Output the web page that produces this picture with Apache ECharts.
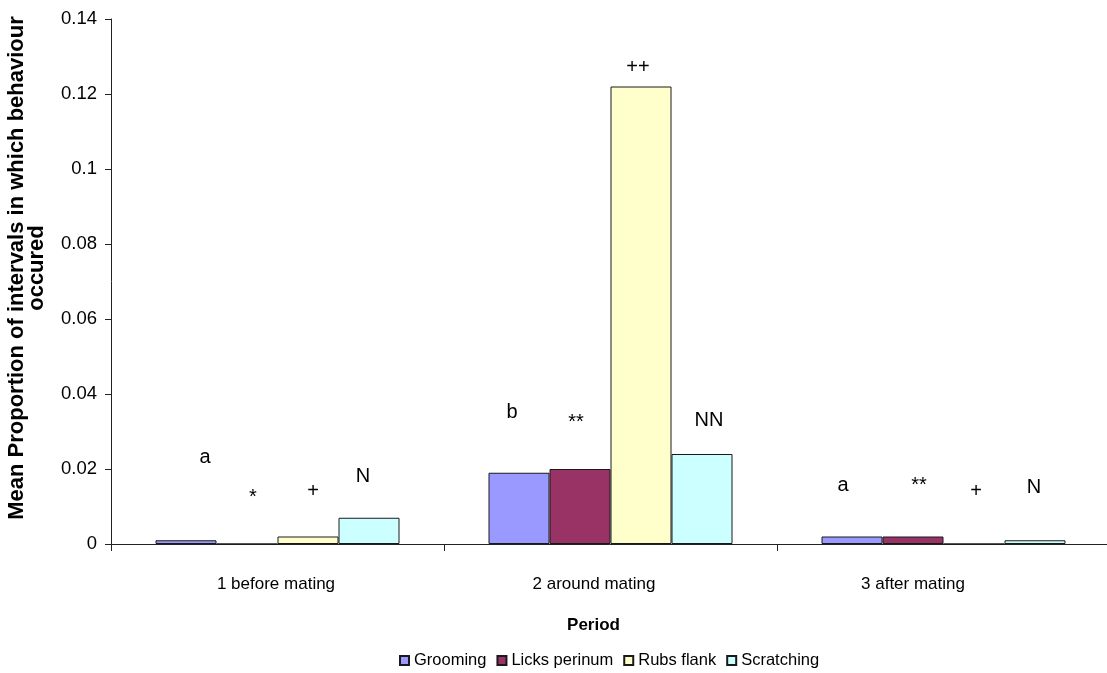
<!DOCTYPE html>
<html>
<head>
<meta charset="utf-8">
<title>Mean proportion of intervals by period</title>
<script src="https://cdn.jsdelivr.net/npm/echarts@6/dist/echarts.min.js"></script>
<style>
  html, body { margin: 0; padding: 0; background: #ffffff; overflow: hidden; }
  #chart { width: 1107px; height: 673px; }
</style>
</head>
<body>
<div id="chart"></div>
<script>
// Periods on the x axis
const periods = ['1 before mating', '2 around mating', '3 after mating'];

// Mean proportion of intervals in which each behaviour occurred, per period
const grooming     = [0.001, 0.019, 0.002];
const licksPerinum = [0.000, 0.020, 0.002];
const rubsFlank    = [0.002, 0.122, 0.000];
const scratching   = [0.007, 0.024, 0.001];

// Significance markers written above each bar, and the height they sit at
const groomingMarks = ['a', 'b', 'a'];
const groomingMarkAt = [0.023, 0.035, 0.0155];
const licksMarks = ['*', '**', '**'];
const licksMarkAt = [0.0125, 0.0325, 0.0155];
const rubsMarks = ['+', '++', '+'];
const rubsMarkAt = [0.014, 0.127, 0.014];
const scratchMarks = ['N', 'NN', 'N'];
const scratchMarkAt = [0.018, 0.033, 0.015];

// Y axis ticks
const yMin = 0, yMax = 0.14, yStep = 0.02;

const FONT = "'Liberation Sans', Arial, Helvetica, sans-serif";

// small horizontal nudges (px) for the marker text, per series and period
const markNudge = [
  [19, -7, -9],
  [6, -4, 6],
  [5, -3, 2],
  [-6, 7, -1]
];

const seriesDefs = [
  { name: 'Grooming',      values: grooming,     color: '#9999FF', marks: groomingMarks, at: groomingMarkAt },
  { name: 'Licks perinum', values: licksPerinum, color: '#993366', marks: licksMarks,    at: licksMarkAt },
  { name: 'Rubs flank',    values: rubsFlank,    color: '#FFFFCC', marks: rubsMarks,     at: rubsMarkAt },
  { name: 'Scratching',    values: scratching,   color: '#CCFFFF', marks: scratchMarks,  at: scratchMarkAt }
];

const series = seriesDefs.map(function (s, si) {
  return {
    name: s.name,
    type: 'bar',
    data: s.values,
    barWidth: 61,
    barGap: '0%',
    itemStyle: { color: s.color, borderColor: '#1a1a1a', borderWidth: 1 },
    emphasis: { disabled: true },
    markPoint: {
      symbol: 'rect',
      symbolSize: 1,
      itemStyle: { color: 'rgba(0,0,0,0)' },
      silent: true,
      animation: false,
      label: {
        show: true,
        position: 'inside',
        formatter: '{b}',
        color: '#000',
        fontFamily: FONT,
        fontSize: 20
      },
      data: s.marks.map(function (m, ci) {
        return {
          name: m,
          coord: [ci, s.at[ci]],
          label: { offset: [markNudge[si][ci], 0] }
        };
      })
    }
  };
});

const chart = echarts.init(document.getElementById('chart'), null, { renderer: 'canvas' });

chart.setOption({
  animation: false,
  backgroundColor: '#ffffff',
  grid: {
    left: 111, width: 999, top: 19, bottom: 129,
    containLabel: false,
    outerBoundsMode: 'none'
  },
  legend: {
    left: 399,
    top: 652,
    padding: 0,
    itemWidth: 9,
    itemHeight: 9,
    itemGap: 10,
    icon: 'rect',
    textStyle: { fontFamily: FONT, fontSize: 16.5, color: '#000' },
    data: seriesDefs.map(function (s) { return s.name; })
  },
  xAxis: {
    type: 'category',
    data: periods,
    name: 'Period',
    nameLocation: 'middle',
    nameGap: 73,
    nameTextStyle: {
      fontFamily: FONT, fontSize: 17, fontWeight: 'bold', color: '#000',
      padding: [0, 34, 0, 0]
    },
    axisLine: { lineStyle: { color: '#222', width: 1 } },
    axisTick: { show: true, length: 7, interval: 0, lineStyle: { color: '#222' } },
    axisLabel: {
      margin: 32,
      interval: 0,
      color: '#000',
      fontFamily: FONT,
      fontSize: 17,
      formatter: function (v, i) { return '{p' + i + '|' + v + '}'; },
      rich: {
        p0: { fontFamily: FONT, fontSize: 17, color: '#000', padding: [0, 3, 0, 0] },
        p1: { fontFamily: FONT, fontSize: 17, color: '#000', padding: [0, 33, 0, 0] },
        p2: { fontFamily: FONT, fontSize: 17, color: '#000', padding: [0, 61, 0, 0] }
      }
    }
  },
  yAxis: {
    type: 'value',
    min: yMin,
    max: yMax,
    interval: yStep,
    name: 'Mean Proportion of intervals in which behaviour\noccured',
    nameLocation: 'middle',
    nameRotate: 90,
    nameGap: 64,
    nameTextStyle: {
      fontFamily: FONT, fontSize: 22, fontWeight: 'bold', color: '#000',
      lineHeight: 20, align: 'center',
      padding: [0, 0, 0, 27]
    },
    splitLine: { show: false },
    axisLine: { show: true, lineStyle: { color: '#222', width: 1 } },
    axisTick: { show: true, length: 6, lineStyle: { color: '#222' } },
    axisLabel: { margin: 14, color: '#000', fontFamily: FONT, fontSize: 18.5 }
  },
  series: series
});
</script>
</body>
</html>
